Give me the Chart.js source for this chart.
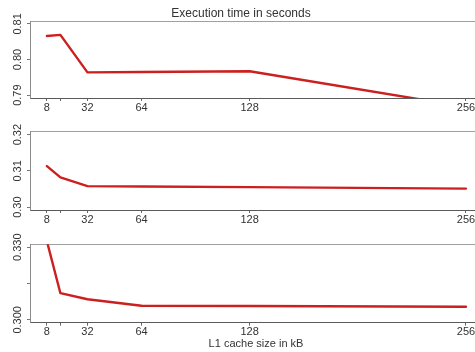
<!DOCTYPE html>
<html>
<head>
<meta charset="utf-8">
<script src="https://cdn.jsdelivr.net/npm/chart.js@4/dist/chart.umd.min.js"></script>
<style>
  html, body { margin: 0; padding: 0; background: #fff; width: 475px; height: 352px; overflow: hidden; }
  #wrap { position: relative; width: 475px; height: 352px; overflow: hidden; }
  canvas { position: absolute; left: 0; }
</style>
</head>
<body>
<div id="wrap">
  <canvas id="c1" width="482" height="120" style="top:0px"></canvas>
  <canvas id="c2" width="482" height="120" style="top:112px"></canvas>
  <canvas id="c3" width="482" height="128" style="top:224px"></canvas>
</div>
<script>
// ---- data ----
const cacheSizes = [8, 16, 32, 64, 128, 256];
const xTickValues = [8, 16, 32, 64, 128, 256];
const xTickLabels = ['8', '', '32', '64', '128', '256'];

const panel1Values = [0.8066, 0.8069, 0.7964, 0.7965, 0.7967, 0.7867];
const panel2Values = [0.3113, 0.3082, 0.3058, 0.3057, 0.3055, 0.3051];
const panel3Values = [0.3325, 0.3110, 0.3085, 0.3058, 0.3057, 0.3054];

const panel1TickValues = [0.79, 0.80, 0.81];
const panel1TickLabels = ['0.79', '0.80', '0.81'];
const panel2TickValues = [0.30, 0.31, 0.32];
const panel2TickLabels = ['0.30', '0.31', '0.32'];
const panel3TickValues = [0.300, 0.315, 0.330];
const panel3TickLabels = ['0.300', '', '0.330'];

const panel1Range = [0.7892, 0.8108];
const panel2Range = [0.2992, 0.3208];
const panel3Range = [0.2988, 0.3312];

const titleText = 'Execution time in seconds';
const xAxisTitle = 'L1 cache size in kB';

// ---- styling ----
const FONT = 'Liberation Sans, Arial, Helvetica, sans-serif';
const TEXT = '#333333';
const LINE = '#cc1f1f';

function makePanel(id, values, range, tickValues, tickLabels, cfg) {
  const ctx = document.getElementById(id);
  return new Chart(ctx, {
    type: 'line',
    data: {
      datasets: [{
        data: cacheSizes.map((x, i) => ({ x: x, y: values[i] })),
        borderColor: LINE,
        borderWidth: 2.4,
        pointRadius: 0,
        tension: 0,
        borderJoinStyle: 'round',
        borderCapStyle: 'round',
        fill: false
      }]
    },
    options: {
      responsive: false,
      animation: false,
      devicePixelRatio: 1,
      layout: { padding: { top: cfg.padTop, left: 0, right: 0, bottom: 0 } },
      plugins: {
        legend: { display: false },
        tooltip: { enabled: false },
        title: {
          display: !!cfg.title,
          text: cfg.title || '',
          color: TEXT,
          font: { family: FONT, size: 12, weight: 'normal', lineHeight: 1 },
          padding: { top: 8, bottom: 1 }
        }
      },
      scales: {
        x: {
          type: 'linear',
          position: 'bottom',
          min: -2,
          max: 265.5,
          afterBuildTicks: s => { s.ticks = xTickValues.map(v => ({ value: v })); },
          afterFit: s => { s.height = cfg.xHeight; },
          ticks: {
            autoSkip: false,
            maxRotation: 0,
            minRotation: 0,
            color: TEXT,
            padding: 0,
            font: { family: FONT, size: 11 },
            callback: (v, i) => xTickLabels[i]
          },
          grid: { drawOnChartArea: false, drawTicks: true, tickLength: 3, color: '#666', lineWidth: 1 },
          border: { display: true, color: '#5a5a5a', width: 1 },
          title: {
            display: !!cfg.xTitle,
            text: cfg.xTitle || '',
            color: TEXT,
            font: { family: FONT, size: 11, lineHeight: 1 },
            padding: { top: 0, bottom: 3 }
          }
        },
        xTop: {
          type: 'linear',
          position: 'top',
          min: -2,
          max: 265.5,
          afterFit: s => { s.height = 0; },
          ticks: { display: false },
          grid: { drawOnChartArea: false, drawTicks: false },
          border: { display: true, color: '#a0a0a0', width: 1 }
        },
        y: {
          type: 'linear',
          position: 'left',
          min: range[0],
          max: range[1],
          afterBuildTicks: s => { s.ticks = tickValues.map(v => ({ value: v })); },
          afterFit: s => { s.width = 30; },
          ticks: {
            autoSkip: false,
            minRotation: 90,
            maxRotation: 90,
            crossAlign: 'center',
            padding: cfg.yPad,
            color: TEXT,
            font: { family: FONT, size: 11 },
            callback: (v, i) => tickLabels[i]
          },
          grid: { drawOnChartArea: false, drawTicks: true, tickLength: 3, color: '#777', lineWidth: 1 },
          border: { display: true, color: '#8a8a8a', width: 1 }
        }
      }
    }
  });
}

makePanel('c1', panel1Values, panel1Range, panel1TickValues, panel1TickLabels,
  { title: titleText, padTop: 0, xHeight: 22, yPad: -2 });
makePanel('c2', panel2Values, panel2Range, panel2TickValues, panel2TickLabels,
  { padTop: 19.7, xHeight: 22, yPad: -2 });
makePanel('c3', panel3Values, panel3Range, panel3TickValues, panel3TickLabels,
  { padTop: 20.3, xHeight: 29.3, yPad: -5, xTitle: xAxisTitle });
</script>
</body>
</html>
